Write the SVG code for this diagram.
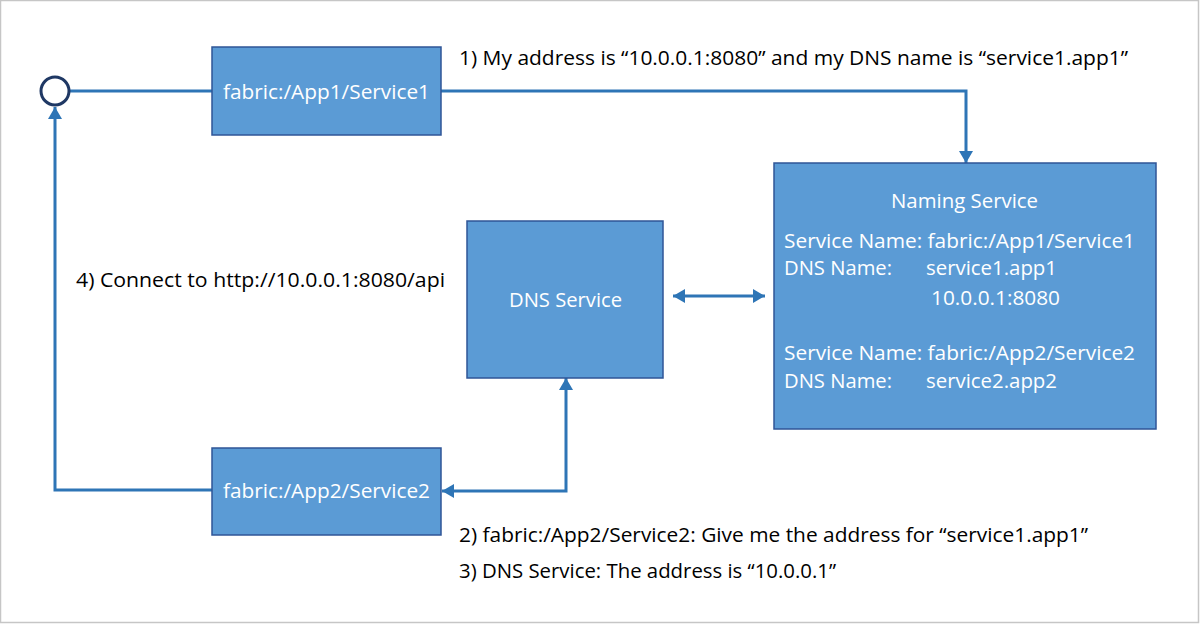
<svg xmlns="http://www.w3.org/2000/svg" width="1200" height="624" viewBox="0 0 1200 624">
<defs>
<style>
.box{fill:#5b9bd5;stroke:#2f5597;stroke-width:1.5}
.wt{fill:#ffffff;font-family:"Open Sans","Liberation Sans",sans-serif;font-size:20px}
.bt{fill:#000000;font-family:"Open Sans","Liberation Sans",sans-serif;font-size:20px}
.conn{fill:none;stroke:#2e75b6;stroke-width:3}
</style>
<marker id="arr" viewBox="0 0 12 14" refX="12" refY="7" markerWidth="12" markerHeight="14" markerUnits="userSpaceOnUse" orient="auto-start-reverse">
<path d="M0,0 L12,7 L0,14 z" fill="#2e75b6"/>
</marker>
</defs>
<rect x="0.5" y="0.5" width="1198" height="622" fill="#ffffff" stroke="#c6c6c6" stroke-width="1.5"/>
<g id="connectors">
<path class="conn" d="M70,91 L212,91"/>
<path class="conn" d="M441,91 L966,91 L966,163" marker-end="url(#arr)"/>
<path class="conn" d="M673,296 L765,296" marker-start="url(#arr)" marker-end="url(#arr)"/>
<path class="conn" d="M442,491 L566,491 L566,378" marker-start="url(#arr)" marker-end="url(#arr)"/>
<path class="conn" d="M212,490 L55,490 L55,107" marker-end="url(#arr)"/>
</g>
<g id="circle">
<circle cx="55" cy="91" r="14" fill="#ffffff" stroke="#1f3864" stroke-width="3"/>
</g>
<g id="app1service1">
<rect class="box" x="212" y="47" width="229" height="88"/>
<text class="wt" x="223" y="99" textLength="207" lengthAdjust="spacingAndGlyphs">fabric:/App1/Service1</text>
</g>
<g id="app2service2">
<rect class="box" x="212" y="448" width="229" height="87"/>
<text class="wt" x="223" y="498" textLength="207" lengthAdjust="spacingAndGlyphs">fabric:/App2/Service2</text>
</g>
<g id="dnsservice">
<rect class="box" x="467" y="221" width="196" height="157"/>
<text class="wt" x="509" y="307" textLength="113" lengthAdjust="spacingAndGlyphs">DNS Service</text>
</g>
<g id="namingservice">
<rect class="box" x="774" y="163" width="382" height="266"/>
<text class="wt" x="891" y="208" textLength="147" lengthAdjust="spacingAndGlyphs">Naming Service</text>
<text class="wt" x="784" y="248" textLength="351" lengthAdjust="spacingAndGlyphs">Service Name: fabric:/App1/Service1</text>
<text class="wt" x="784" y="275" textLength="108" lengthAdjust="spacingAndGlyphs">DNS Name:</text>
<text class="wt" x="926" y="275" textLength="131" lengthAdjust="spacingAndGlyphs">service1.app1</text>
<text class="wt" x="931" y="305" textLength="129" lengthAdjust="spacingAndGlyphs">10.0.0.1:8080</text>
<text class="wt" x="784" y="360" textLength="351" lengthAdjust="spacingAndGlyphs">Service Name: fabric:/App2/Service2</text>
<text class="wt" x="784" y="388" textLength="108" lengthAdjust="spacingAndGlyphs">DNS Name:</text>
<text class="wt" x="926" y="388" textLength="131" lengthAdjust="spacingAndGlyphs">service2.app2</text>
</g>
<g id="labels">
<text class="bt" x="459" y="65" textLength="669" lengthAdjust="spacingAndGlyphs">1) My address is “10.0.0.1:8080” and my DNS name is “service1.app1”</text>
<text class="bt" x="76" y="287" textLength="369" lengthAdjust="spacingAndGlyphs">4) Connect to http://10.0.0.1:8080/api</text>
<text class="bt" x="459" y="542" textLength="629" lengthAdjust="spacingAndGlyphs">2) fabric:/App2/Service2: Give me the address for “service1.app1”</text>
<text class="bt" x="459" y="578" textLength="377" lengthAdjust="spacingAndGlyphs">3) DNS Service: The address is “10.0.0.1”</text>
</g>
</svg>
